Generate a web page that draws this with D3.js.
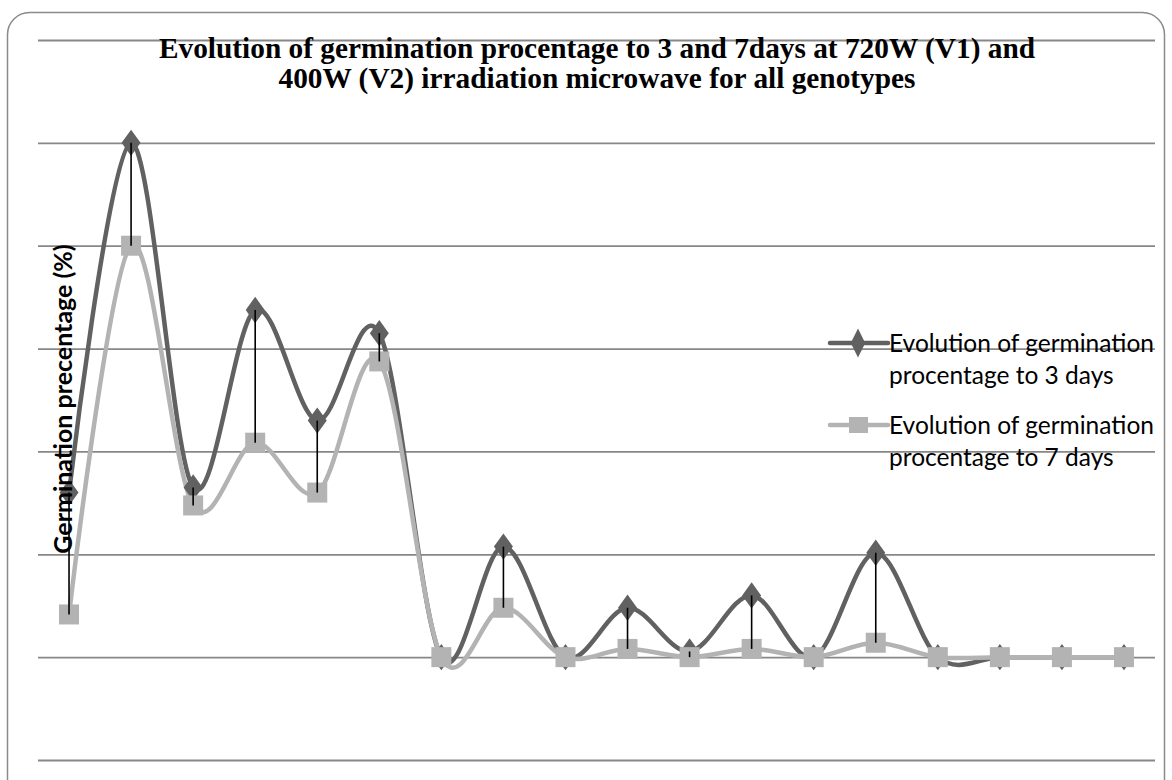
<!DOCTYPE html>
<html><head><meta charset="utf-8">
<script src="https://cdn.jsdelivr.net/npm/d3@7"></script>
<style>body{margin:0;background:#fff;}svg{display:block;}</style>
</head><body>
<svg id="c" width="1172" height="780"></svg>
<script>
const categories = d3.range(1, 19).map(String);
const days3 = [32, 100, 33, 67.5, 46, 63, 0, 21.5, 0, 9.6, 1.1, 12, 0, 20.3, 0, 0, 0, 0];
const days7 = [8.3, 80, 29.5, 41.7, 32, 57.5, 0, 9.6, 0, 1.6, 0, 1.6, 0, 2.8, 0, 0, 0, 0];
const yTicks = [-20, 0, 20, 40, 60, 80, 100, 120];
const seriesNames = ["Evolution of germination procentage to 3 days", "Evolution of germination procentage to 7 days"];
const titleLines = ["Evolution of germination procentage to 3 and 7days at 720W (V1) and", "400W (V2) irradiation microwave for all genotypes"];
const yLabel = "Germination precentage (%)";

const svg = d3.select("#c");
const plot = {left: 38, right: 1155, top: 40, bottom: 760};
const dark = "#616161", light = "#b3b3b3";

// outer border
svg.append("rect").attr("x", 7.5).attr("y", 12.5).attr("width", 1157).attr("height", 790)
  .attr("rx", 22).attr("fill", "none").attr("stroke", "#8a8a8a").attr("stroke-width", 1.5);

const x = d3.scaleBand().domain(categories).range([plot.left, plot.right]);
const y = d3.scaleLinear().domain([-20, 120]).range([plot.bottom, plot.top]);
const cx = d => x(d) + x.bandwidth() / 2;

// gridlines via axis
const gAxis = svg.append("g").attr("transform", `translate(${plot.left},0)`)
  .call(d3.axisLeft(y).tickValues(yTicks).tickSize(-(plot.right - plot.left)).tickFormat(""));
gAxis.select(".domain").remove();
gAxis.selectAll("line").attr("stroke", "#878787").attr("stroke-width", 1.8);

// title
const titleLens = [876, 637];
const title = svg.append("text").attr("text-anchor", "middle")
  .attr("font-family", "'Liberation Serif','Times New Roman',serif").attr("font-weight", "bold")
  .attr("font-size", 28.5).attr("fill", "#000");
titleLines.forEach((t, i) => title.append("tspan").attr("x", 597).attr("y", 58 + i * 29.5)
  .attr("textLength", titleLens[i]).attr("lengthAdjust", "spacingAndGlyphs").text(t));

// series
const line = d3.line().x((d, i) => cx(categories[i])).y(d => y(d)).curve(d3.curveCardinal.tension(0));
svg.append("path").datum(days3).attr("d", line).attr("fill", "none").attr("stroke", dark).attr("stroke-width", 4.5);
svg.append("path").datum(days7).attr("d", line).attr("fill", "none").attr("stroke", light).attr("stroke-width", 4.5);

const diamond = d3.symbol().type(d3.symbolDiamond).size(200);
svg.append("g").selectAll("path").data(days3).join("path")
  .attr("d", diamond).attr("fill", dark)
  .attr("transform", (d, i) => `translate(${cx(categories[i])},${y(d)}) scale(1.25,1)`);
svg.append("g").selectAll("rect").data(days7).join("rect")
  .attr("x", (d, i) => cx(categories[i]) - 10).attr("y", d => y(d) - 10)
  .attr("width", 20).attr("height", 20).attr("fill", light);

// high-low lines
svg.append("g").selectAll("line").data(days3).join("line")
  .attr("x1", (d, i) => cx(categories[i])).attr("x2", (d, i) => cx(categories[i]))
  .attr("y1", d => y(d)).attr("y2", (d, i) => y(days7[i]))
  .attr("stroke", "#000").attr("stroke-width", 1.6);

// y label
svg.append("text").attr("transform", "translate(72,399) rotate(-90)")
  .attr("text-anchor", "middle").attr("font-family", "Lato,'Open Sans',sans-serif")
  .attr("font-weight", "bold").attr("font-size", 25).attr("fill", "#000").text(yLabel);

// legend
const legendY = [343, 425];
const legendText = [["Evolution of germination", "procentage to 3 days"], ["Evolution of germination", "procentage to 7 days"]];
legendY.forEach((ly, k) => {
  const col = k === 0 ? dark : light;
  svg.append("line").attr("x1", 830).attr("x2", 888).attr("y1", ly).attr("y2", ly)
    .attr("stroke", col).attr("stroke-width", 4.5).attr("stroke-linecap", "round");
  if (k === 0) {
    svg.append("path").attr("d", diamond).attr("fill", dark).attr("transform", `translate(858,${ly}) scale(0.95,1.1)`);
  } else {
    svg.append("rect").attr("x", 849).attr("y", ly - 8).attr("width", 19).attr("height", 16).attr("fill", light);
  }
  const t = svg.append("text").attr("font-family", "Lato,'Open Sans',sans-serif").attr("font-size", 24.5).attr("fill", "#000");
  legendText[k].forEach((s, j) => t.append("tspan").attr("x", 889).attr("y", ly + 9 + j * 31.5).text(s));
});
</script>
</body></html>
